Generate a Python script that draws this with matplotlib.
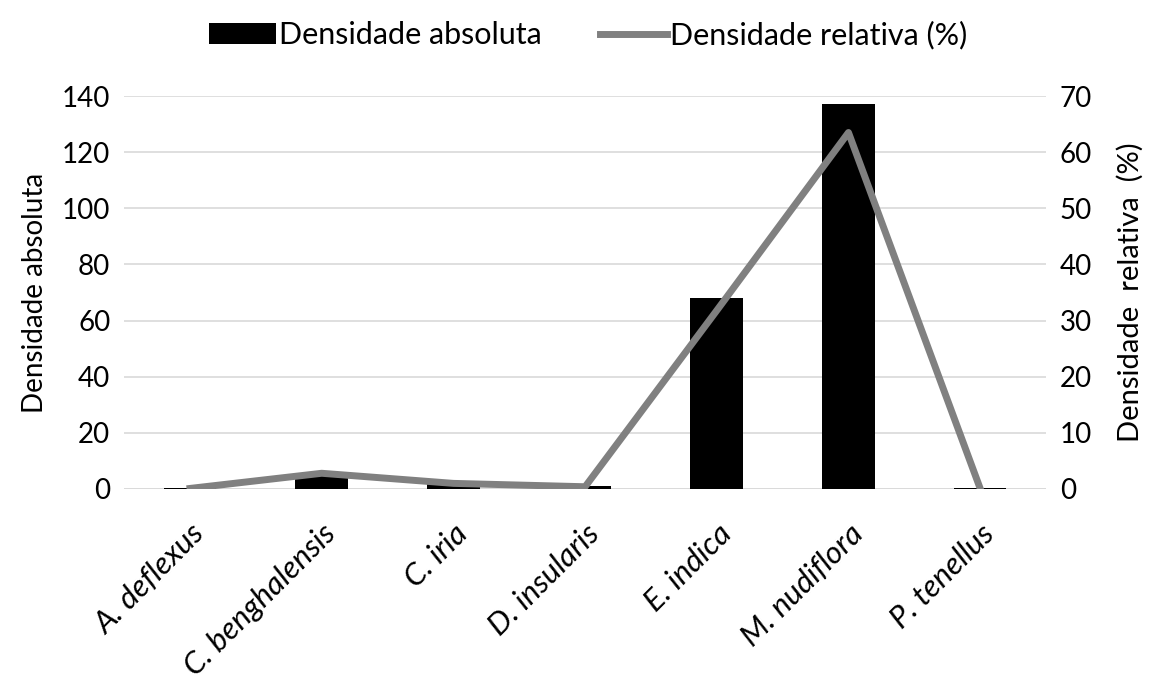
import numpy as np
import matplotlib.pyplot as plt

plt.rcParams['font.family'] = ['Lato', 'DejaVu Sans']

especies = ['A. deflexus', 'C. benghalensis', 'C. iria', 'D. insularis',
            'E. indica', 'M. nudiflora', 'P. tenellus']
dens_abs = [0.3, 4.5, 2.0, 1.0, 68, 137, 0.3]
dens_rel = [0.1, 2.8, 1.0, 0.4, 31.8, 63.5, 0.1]

fig = plt.figure(figsize=(11.53, 6.84), dpi=100)
ax = fig.add_axes([0.1077, 0.2851, 0.7995, 0.5745])
x = np.arange(len(especies))

b = ax.bar(x, dens_abs, width=0.4, color='black', label='Densidade absoluta', zorder=2)
ax.set_ylim(0, 140)
ax.set_yticks(np.arange(0, 141, 20))
ax.set_xlim(-0.5, len(especies) - 0.5)
ax.grid(axis='y', color='#d9d9d9', lw=1.2, zorder=0)
ax.set_axisbelow(True)
ax.set_xticks(x)
ax.set_xticklabels(especies, rotation=45, ha='right', rotation_mode='anchor',
                   fontstyle='italic', fontsize=22.5)
ax.tick_params(axis='both', length=0, labelsize=20, pad=10)
ax.tick_params(axis='x', labelsize=22.5, pad=22)
ax.set_ylabel('Densidade absoluta', fontsize=20, labelpad=10)
for s in ax.spines.values():
    s.set_visible(False)
ax.axhline(0, color='#d9d9d9', lw=1.2, zorder=1)

ax2 = ax.twinx()
l, = ax2.plot(x, dens_rel, color='#808080', lw=5, label='Densidade relativa (%)', zorder=3)
ax2.set_ylim(0, 70)
ax2.set_yticks(np.arange(0, 71, 10))
ax2.tick_params(axis='y', length=0, labelsize=20, pad=10)
ax2.set_ylabel('Densidade  relativa  (%)', fontsize=21, labelpad=18)
for s in ax2.spines.values():
    s.set_visible(False)

fig.legend([b, l], ['Densidade absoluta', 'Densidade relativa (%)'],
           loc='upper center', bbox_to_anchor=(0.51, 1.01), ncol=2, frameon=False,
           fontsize=22, handlelength=2.2, columnspacing=1.9, handletextpad=0.1)

fig.savefig('out.png', dpi=100)
